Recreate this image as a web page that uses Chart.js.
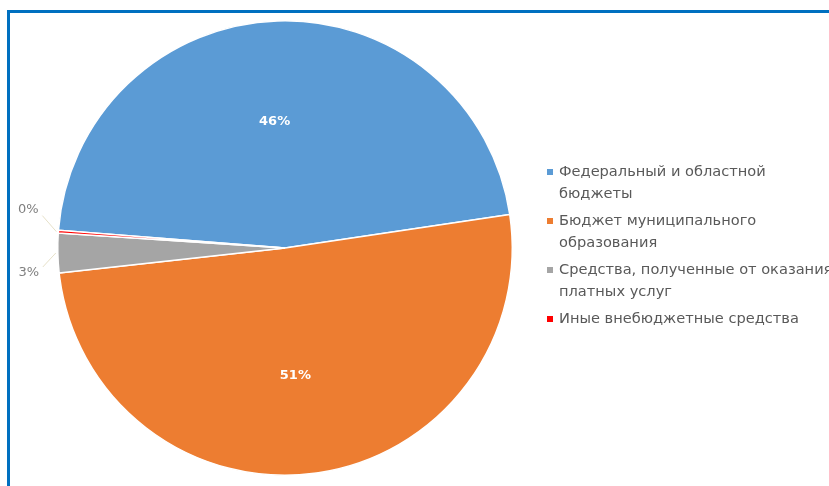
<!DOCTYPE html>
<html>
<head>
<meta charset="utf-8">
<script src="https://cdn.jsdelivr.net/npm/chart.js@4.4.0/dist/chart.umd.min.js"></script>
<style>
  html, body { margin:0; padding:0; background:#fff; overflow:hidden; }
  #wrap { position:relative; width:829px; height:486px; }
  #frame { position:absolute; left:7px; top:10px; width:900px; height:600px; border:3px solid #0070C0; box-sizing:border-box; }
  canvas { position:absolute; left:0; top:0; }
</style>
</head>
<body>
<div id="wrap">
  <div id="frame"></div>
  <canvas id="pieChart" width="829" height="486"></canvas>
</div>
<script>
const categories = [
  ['Федеральный и областной', 'бюджеты'],
  ['Бюджет муниципального', 'образования'],
  ['Средства, полученные от оказания', 'платных услуг'],
  ['Иные внебюджетные средства']
];
const shares = [46.4, 50.6, 2.8, 0.2];
const colors = ['#5B9BD5', '#ED7D31', '#A5A5A5', '#FF0000'];
// label placement: inside slice (fraction of radius) or outside with offset from arc
const labelPlace = [
  {inside:0.56},
  {inside:0.56},
  {dx:-29, dy:20},
  {dx:-30, dy:-22}
];

const FONT = '"DejaVu Sans", "Open Sans", sans-serif';

const pieLabels = {
  id:'pieLabels',
  afterDatasetsDraw(chart) {
    const ctx = chart.ctx;
    const meta = chart.getDatasetMeta(0);
    const total = shares.reduce((a,b)=>a+b,0);
    meta.data.forEach((arc, i) => {
      const p = arc.getProps(['x','y','startAngle','endAngle','outerRadius']);
      const mid = (p.startAngle + p.endAngle) / 2;
      const txt = Math.round(shares[i] / total * 100) + '%';
      const place = labelPlace[i];
      ctx.save();
      ctx.textAlign = 'center';
      ctx.textBaseline = 'middle';
      if (place.inside) {
        const r = p.outerRadius * place.inside;
        ctx.fillStyle = '#fff';
        ctx.font = 'bold 13px ' + FONT;
        ctx.fillText(txt, p.x + Math.cos(mid)*r - 6, p.y + Math.sin(mid)*r + 1);
      } else {
        const ax = p.x + Math.cos(mid)*p.outerRadius;
        const ay = p.y + Math.sin(mid)*p.outerRadius;
        const lx = ax + place.dx, ly = ay + place.dy;
        ctx.strokeStyle = '#e6e0c8';
        ctx.lineWidth = 1;
        ctx.beginPath();
        ctx.moveTo(ax - 2, ay);
        ctx.lineTo(lx + 14, ly + (place.dy > 0 ? -6 : 6));
        ctx.stroke();
        ctx.fillStyle = '#7f7f7f';
        ctx.font = '13px ' + FONT;
        ctx.fillText(txt, lx, ly);
      }
      ctx.restore();
    });
  }
};

const sideLegend = {
  id:'sideLegend',
  afterDraw(chart) {
    const ctx = chart.ctx;
    const x0 = 547, textX = 559;
    let y = 172;
    const lineH = 22.5, gap = 4;
    ctx.save();
    ctx.font = '14.6px ' + FONT;
    ctx.textBaseline = 'middle';
    ctx.textAlign = 'left';
    categories.forEach((lines, i) => {
      ctx.fillStyle = colors[i];
      ctx.fillRect(x0, y - 3, 6, 6);
      ctx.fillStyle = '#595959';
      lines.forEach((ln, k) => ctx.fillText(ln, textX, y + k*lineH));
      y += lines.length*lineH + gap;
    });
    ctx.restore();
  }
};

new Chart(document.getElementById('pieChart'), {
  type:'pie',
  data:{
    labels: categories.map(c => c.join(' ')),
    datasets:[{data:shares, backgroundColor:colors, borderColor:'#fff', borderWidth:1.5}]
  },
  options:{
    responsive:false,
    animation:false,
    rotation:274.5,
    layout:{padding:{left:57, top:20, right:316, bottom:10}},
    plugins:{legend:{display:false}, tooltip:{enabled:false}}
  },
  plugins:[pieLabels, sideLegend]
});
</script>
</body>
</html>
